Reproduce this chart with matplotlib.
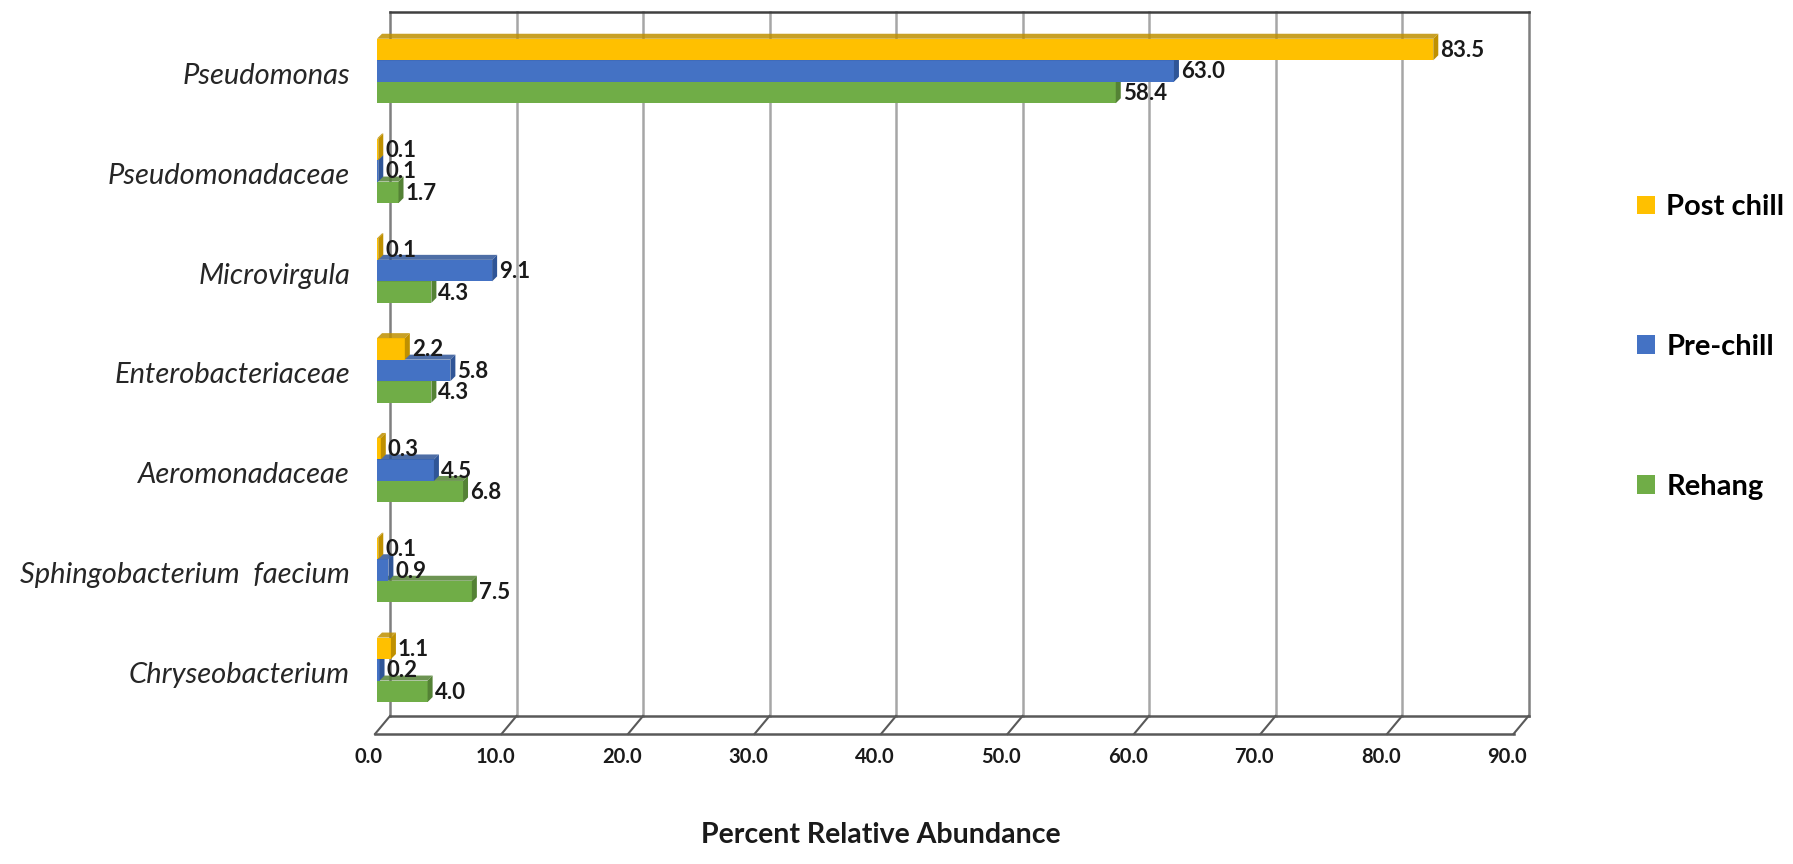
import matplotlib.pyplot as plt
from matplotlib.patches import Polygon, Patch

categories = ['Pseudomonas', 'Pseudomonadaceae', 'Microvirgula', 'Enterobacteriaceae',
              'Aeromonadaceae', 'Sphingobacterium  faecium', 'Chryseobacterium']
post_chill = [83.5, 0.1, 0.1, 2.2, 0.3, 0.1, 1.1]
pre_chill = [63.0, 0.1, 9.1, 5.8, 4.5, 0.9, 0.2]
rehang = [58.4, 1.7, 4.3, 4.3, 6.8, 7.5, 4.0]
series_names = ['Post chill', 'Pre-chill', 'Rehang']
x_ticks = [0, 10, 20, 30, 40, 50, 60, 70, 80, 90]

# front face / top-side face colours
colors = ['#FFC000', '#4472C4', '#70AD47']
dark = ['#BF9000', '#2F5597', '#548235']

W, H = 1793, 864
XS = 12.65      # pixels per percent
YS = 99.8       # pixels per category
X0, Y0 = 377, 71  # pixel of value 0 / first category centre

fig = plt.figure(figsize=(W / 100, H / 100), dpi=100)
ax = fig.add_axes([0, 0, 1, 1])
ax.set_xlim(-X0 / XS, (W - X0) / XS)
ax.set_ylim((H - Y0) / YS, -Y0 / YS)
ax.set_axis_off()

plt.rcParams['font.family'] = ['Lato', 'DejaVu Sans']

# 3D box: back wall and floor
bx = 13 / XS          # back wall shift right
wall_top = (12 - Y0) / YS
wall_bot = (716 - Y0) / YS
floor_front = (734 - Y0) / YS
fx = -2 / XS          # front floor shift
for v in x_ticks:
    c = '#A6A6A6' if 0 < v < 90 else '#7F7F7F'
    ax.plot([v + bx, v + bx], [wall_top, wall_bot], color=c, lw=1.8, zorder=1)
    ax.plot([v + bx, v + fx], [wall_bot, floor_front], color='#595959', lw=1.5, zorder=1)
    ax.text(v - 0.65, (757 - Y0) / YS, f'{v:.1f}', ha='center', va='center',
            fontsize=14.5, fontweight='bold', color='#1a1a1a')
ax.plot([bx, 90 + bx], [wall_top, wall_top], color='#404040', lw=1.8, zorder=1)
ax.plot([bx, 90 + bx], [wall_bot, wall_bot], color='#595959', lw=1.8, zorder=1)
ax.plot([fx, 90 + fx], [floor_front, floor_front], color='#595959', lw=1.8, zorder=1)

# bars with small depth
bh = 21.5 / YS
ddx = 5 / XS
ddy = -5 / YS
series = [post_chill, pre_chill, rehang]
for s in [2, 1, 0]:
    vals = series[s]
    ys = [i + (s - 1) * bh for i in range(len(categories))]
    ax.barh(ys, vals, height=bh, color=colors[s], zorder=3 + (2 - s))
    for y, v in zip(ys, vals):
        top, bot = y - bh / 2, y + bh / 2
        ax.add_patch(Polygon([(0, top), (ddx, top + ddy), (v + ddx, top + ddy), (v, top)],
                             closed=True, color=dark[s], alpha=0.85, zorder=3 + (2 - s), lw=0))
        ax.add_patch(Polygon([(v, top), (v + ddx, top + ddy), (v + ddx, bot + ddy), (v, bot)],
                             closed=True, color=dark[s], zorder=3 + (2 - s), lw=0))
        ax.text(v + ddx + 0.15, y + 1 / YS, f'{v:.1f}', ha='left', va='center',
                fontsize=16, fontweight='bold', color='#1a1a1a', zorder=10)

for i, name in enumerate(categories):
    ax.text((350 - X0) / XS, i + 5 / YS, name, ha='right', va='center',
            fontsize=21, fontstyle='italic', color='#262626')

ax.text((881 - X0) / XS, (835 - Y0) / YS, 'Percent Relative Abundance', ha='center',
        va='center', fontsize=20.5, fontweight='bold', color='#1a1a1a')

handles = [Patch(facecolor=colors[k], edgecolor='none') for k in range(3)]
fig.legend(handles, series_names, loc='center left',
           bbox_to_anchor=(1637 / W, 1 - 347 / H), frameon=False,
           prop={'size': 21, 'weight': 'bold'}, handlelength=0.6, handleheight=0.6,
           handletextpad=0.4, labelspacing=3.9, borderpad=0, borderaxespad=0)

fig.savefig('out.png', dpi=100)
